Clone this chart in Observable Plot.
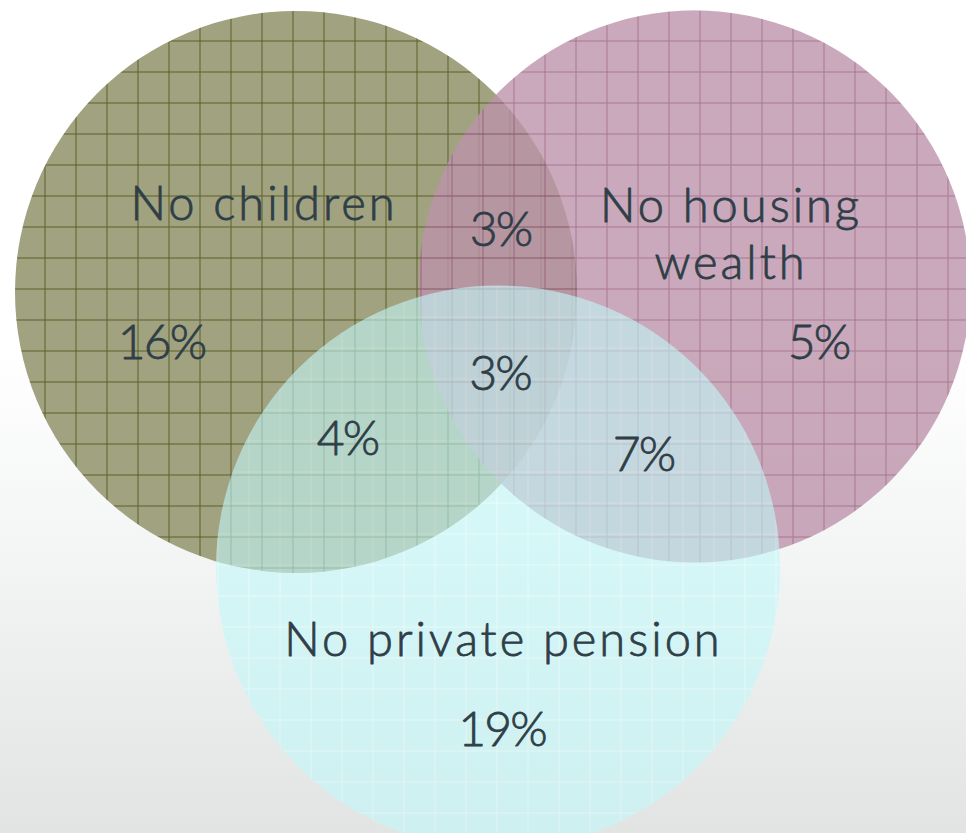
<!DOCTYPE html>
<html>
<head>
<meta charset="utf-8">
<script src="https://cdn.jsdelivr.net/npm/d3@7"></script>
<script src="https://cdn.jsdelivr.net/npm/@observablehq/plot@0.6"></script>
<style>
  html, body { margin: 0; padding: 0; background: #ffffff; }
  #chart svg { display: block; }
</style>
</head>
<body>
<div id="chart"></div>
<script>
// ---- data ----
const setNames = ["No children", "No housing\nwealth", "No private pension"];
const regionNames = [
  "No children only",
  "No housing wealth only",
  "No private pension only",
  "No children & no housing wealth",
  "All three",
  "No children & no private pension",
  "No housing wealth & no private pension"
];
const regionShares = [16, 5, 19, 3, 3, 4, 7];

// ---- layout (diagram geometry, in plot units) ----
const W = 966, H = 833;
const circleLayout = [
  {cx: 295.5, cy: 291.5, r: 281, pattern: "url(#grid-olive)", opacity: 1},
  {cx: 694,   cy: 286,   r: 276, pattern: "url(#grid-pink)",  opacity: 0.8},
  {cx: 497.5, cy: 567,   r: 282, pattern: "url(#grid-cyan)",  opacity: 0.6}
];
const setLabelLayout = [
  {x: 262,   y: 201.6},
  {x: 729,   y: 231.4},
  {x: 501.5, y: 637.3}
];
const regionLabelLayout = [
  {x: 162,   y: 343.6},
  {x: 819,   y: 342.9},
  {x: 502.5, y: 730.6},
  {x: 501,   y: 230.6},
  {x: 500.5, y: 374.6},
  {x: 348,   y: 439.6},
  {x: 644,   y: 455.6}
];

const circles = circleLayout.map((c, i) => ({name: setNames[i], ...c}));
const setLabels = setNames.map((name, i) => ({name, ...setLabelLayout[i]}));
const regionLabels = regionNames.map((name, i) => ({name, share: regionShares[i], ...regionLabelLayout[i]}));

const textColor = "#2f3e47";
const fontFamily = "Lato, 'Open Sans', sans-serif";
const labelSpacing = 3;
const shareSpacing = -1.8;

const plot = Plot.plot({
  width: W,
  height: H,
  margin: 0,
  x: {domain: [0, W], range: [0, W], axis: null},
  y: {domain: [0, H], range: [0, H], axis: null},
  r: {type: "identity"},
  style: {
    background: "linear-gradient(to bottom, #ffffff 0%, #ffffff 42%, #f4f5f5 65%, #e2e4e4 100%)",
    overflow: "hidden"
  },
  marks: [
    ...circles.map(c => Plot.dot([c], {
      x: "cx", y: "cy", r: "r",
      fill: c.pattern,
      fillOpacity: c.opacity,
      stroke: null
    })),
    Plot.text(setLabels, {
      x: "x", y: "y", text: "name", dx: labelSpacing / 2,
      fill: textColor, stroke: textColor, strokeWidth: 0.8,
      fontSize: 47, fontWeight: 300,
      fontFamily, lineHeight: 1.22, lineAnchor: "middle", textAnchor: "middle"
    }),
    Plot.text(regionLabels, {
      x: "x", y: "y", text: d => `${d.share}%`, dx: shareSpacing / 2,
      fill: textColor, stroke: textColor, strokeWidth: 0.8,
      fontSize: 48, fontWeight: 300,
      fontFamily, lineAnchor: "middle", textAnchor: "middle"
    })
  ]
});

// pattern definitions used as circle paints
const defs = `
<defs>
  <pattern id="dither-olive" width="2" height="2" patternUnits="userSpaceOnUse">
    <rect width="2" height="2" fill="#999b78"/>
    <rect width="1" height="1" fill="#a7a988"/>
    <rect x="1" y="1" width="1" height="1" fill="#a7a988"/>
  </pattern>
  <pattern id="grid-olive" x="13" y="9" width="62" height="62" patternUnits="userSpaceOnUse">
    <rect width="62" height="62" fill="url(#dither-olive)"/>
    <path d="M0.5 0V62M31.5 0V62M0 0.5H62M0 31.5H62" stroke="#5a6028" stroke-width="1" fill="none"/>
  </pattern>
  <pattern id="dither-pink" width="2" height="2" patternUnits="userSpaceOnUse">
    <rect width="2" height="2" fill="#b58aa2"/>
    <rect width="1" height="1" fill="#c29cb1"/>
    <rect x="1" y="1" width="1" height="1" fill="#c29cb1"/>
  </pattern>
  <pattern id="grid-pink" x="17" y="9" width="62" height="62" patternUnits="userSpaceOnUse">
    <rect width="62" height="62" fill="url(#dither-pink)"/>
    <path d="M0.5 0V62M31.5 0V62M0 0.5H62M0 31.5H62" stroke="#945676" stroke-width="1" fill="none"/>
  </pattern>
  <pattern id="dither-cyan" width="2" height="2" patternUnits="userSpaceOnUse">
    <rect width="2" height="2" fill="#bcf5f6"/>
    <rect width="1" height="1" fill="#c6fafb"/>
    <rect x="1" y="1" width="1" height="1" fill="#c6fafb"/>
  </pattern>
  <pattern id="grid-cyan" x="0" y="6" width="62" height="62" patternUnits="userSpaceOnUse">
    <rect width="62" height="62" fill="url(#dither-cyan)"/>
    <path d="M0.5 0V62M31.5 0V62M0 0.5H62M0 31.5H62" stroke="#e0ffff" stroke-width="1" fill="none"/>
  </pattern>
</defs>`;
plot.insertAdjacentHTML("afterbegin", defs);

// letter spacing to approximate the wide geometric face of the original
d3.select(plot).selectAll("text").style("letter-spacing", function () {
  return /%/.test(this.textContent) ? `${shareSpacing}px` : `${labelSpacing}px`;
});

document.getElementById("chart").appendChild(plot);
</script>
</body>
</html>
